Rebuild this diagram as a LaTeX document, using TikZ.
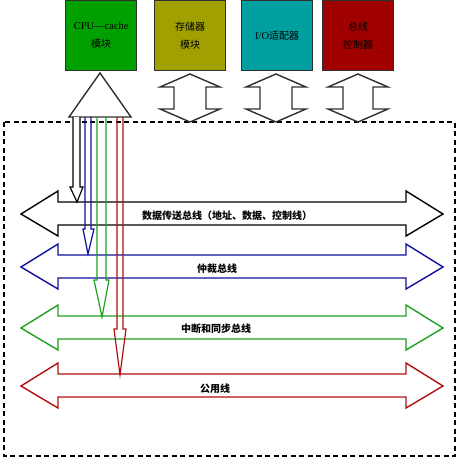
\documentclass[tikz,border=0pt]{standalone}
\usepackage{fontspec}
\setmainfont{Liberation Serif}
\newfontfamily\cjk{Noto Sans CJK SC}
\definecolor{cgreen}{HTML}{00A000}
\definecolor{colive}{HTML}{A0A000}
\definecolor{cteal}{HTML}{00A0A0}
\definecolor{cred}{HTML}{A00000}
\definecolor{lblue}{HTML}{1010A0}
\definecolor{lgreen}{HTML}{20A020}
\definecolor{lred}{HTML}{B01010}
\definecolor{bord}{HTML}{303030}
\newcommand{\bx}{\cjk\fontsize{10}{18}\selectfont}
\begin{document}
\begin{tikzpicture}[x=1pt,y=-1pt,
  modbox/.style={draw=bord,line width=1.4pt,minimum width=71pt,minimum height=70pt,inner sep=0pt,align=center,font=\fontsize{10.5}{18}\selectfont,anchor=north west},
  fat/.style={line width=1.4pt,line join=miter},
  buslabel/.style={font=\cjk\bfseries\fontsize{10}{12}\selectfont,inner sep=1pt}]
\useasboundingbox (0,0) rectangle (470,468);
% modules
\node[modbox,fill=cgreen] (cpu) at (65,0) {CPU—cache\\{\bx 模块}};
\node[modbox,fill=colive] (mem) at (154,0) {{\bx 存储器}\\{\bx 模块}};
\node[modbox,fill=cteal] (io) at (241,0) {I/O{\bx 适配器}};
\node[modbox,fill=cred] (ctl) at (322,0) {{\bx 总线}\\{\bx 控制器}};
% dashed bus area
\draw[line width=1.2pt,dash pattern=on 5pt off 3.5pt] (4,122) rectangle (455,456);
% horizontal buses
\foreach \c/\col in {214/black,267/lblue,328/lgreen,386/lred}{
  \draw[fat,draw=\col] (21,\c) -- (58,\c-23) -- (58,\c-12) -- (406,\c-12) -- (406,\c-23) -- (443,\c)
    -- (406,\c+22) -- (406,\c+11) -- (58,\c+11) -- (58,\c+22) -- cycle;
}
\node[buslabel] (b1) at (227,216) {数据传送总线（地址、数据、控制线）};
\node[buslabel] (b2) at (217,269) {仲裁总线};
\node[buslabel] (b3) at (216,329) {中断和同步总线};
\node[buslabel] (b4) at (215,389) {公用线};
% vertical two-way arrows
\foreach \x/\s in {190/16,276/16,358/15}{
  \draw[fat,draw=bord,fill=white] (\x,74) -- (\x+30,87) -- (\x+\s,87) -- (\x+\s,109) -- (\x+30,109) -- (\x,122)
    -- (\x-30,109) -- (\x-\s,109) -- (\x-\s,87) -- (\x-30,87) -- cycle;
}
% CPU funnel triangle
\draw[fat,draw=bord,fill=white] (100,73) -- (131,117) -- (69,117) -- cycle;
% branch arrows
\draw[line width=1.2pt,draw=black,fill=white] (73,117) -- (73,187) -- (70,187) -- (77,202) -- (83,187) -- (80,187) -- (80,117);
\draw[line width=1.2pt,draw=lblue] (85,117) -- (85,229) -- (83,229) -- (88,254) -- (94,229) -- (91,229) -- (91,117);
\draw[line width=1.2pt,draw=lgreen] (97,117) -- (97,280) -- (94,280) -- (102,317) -- (109,280) -- (106,280) -- (106,117);
\draw[line width=1.2pt,draw=lred] (117,117) -- (117,329) -- (114,329) -- (120,375) -- (126,329) -- (123,329) -- (123,117);
\end{tikzpicture}
\end{document}
